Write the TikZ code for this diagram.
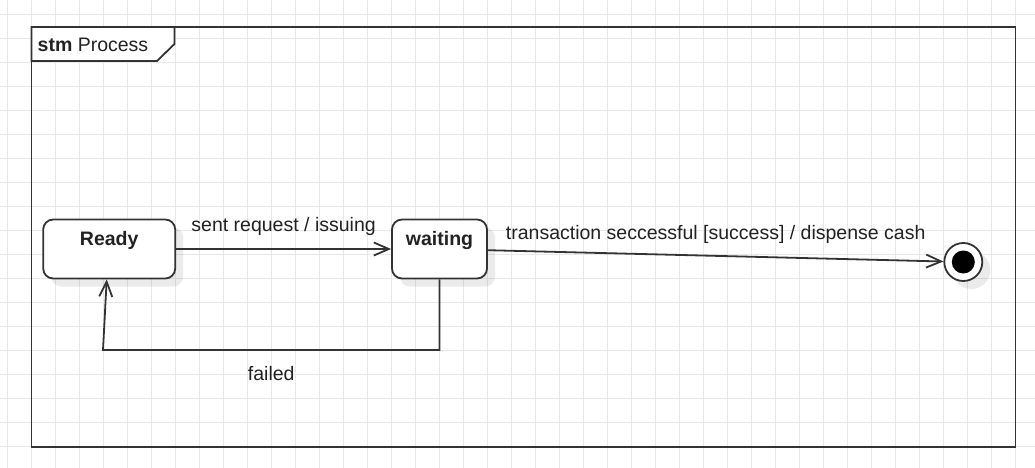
\documentclass[tikz,border=0pt]{standalone}
\usepackage{fontspec}
\setmainfont{Liberation Sans}
\usetikzlibrary{arrows.meta,shadows}
\definecolor{StmInk}{RGB}{51,51,51}
\definecolor{StmText}{RGB}{34,34,34}
\definecolor{StmGrid}{RGB}{232,232,232}
\tikzset{
  stm/state/.style={
    draw=StmInk,
    line width=1.8pt,
    rounded corners=10pt,
    fill=white,
    text=StmText,
    font=\fontsize{19.5}{23}\selectfont\bfseries,
    inner sep=0pt,
    text height=26pt,
    text depth=33pt,
    drop shadow={shadow xshift=8pt,shadow yshift=-8pt,fill=black,opacity=0.08}
  },
  stm/final/.style={
    circle,
    draw=StmInk,
    line width=1.8pt,
    fill=white,
    inner sep=0pt,
    minimum size=38pt,
    drop shadow={shadow xshift=8pt,shadow yshift=-8pt,fill=black,opacity=0.08}
  },
  stm/dot/.style={circle, fill=black, inner sep=0pt, minimum size=23pt},
  stm/frame/.style={draw=StmInk, line width=1.8pt},
  stm/trans/.style={-{Straight Barb[length=15pt,width=13pt]}, line width=1.8pt, draw=StmInk},
  stm/label/.style={font=\fontsize{19.5}{23}\selectfont, text=StmText, inner sep=0pt},
  stm/grid/.style={draw=StmGrid, line width=1.4pt}
}

\begin{document}
\begin{tikzpicture}[x=1pt,y=-1pt]
  \useasboundingbox (0,0) rectangle (1035,468);
  \fill[white] (0,0) rectangle (1035,468);
  % grid
  \foreach \gx in {0,...,42}{
    \draw[stm/grid] ({7.5+24*\gx},0) -- ({7.5+24*\gx},468);
  }
  \foreach \gy in {0,...,19}{
    \draw[stm/grid] (0,{14.7+24*\gy}) -- (1035,{14.7+24*\gy});
  }
  % frame and tab
  \draw[stm/frame] (31.5,27) rectangle (1015.5,446.7);
  \draw[stm/frame,fill=white] (31.5,27) -- (174.5,27) -- (174.5,44) -- (157,61) -- (31.5,61) -- cycle;
  \node[stm/label,anchor=base west] (tabtitle) at (37.5,51.5) {\textbf{stm} Process};
  % states
  \node[stm/state,minimum width=132pt] (ready) at (109.2,249) {Ready};
  \node[stm/state,minimum width=95pt] (waiting) at (439.5,249) {waiting};
  \node[stm/final] (final) at (963.3,262) {};
  \node[stm/dot] (finaldot) at (final) {};
  \coordinate (failcorner) at (103,350);
  % transitions
  \draw[stm/trans] (ready) -- node[stm/label,above=13pt] {sent request / issuing} (waiting);
  \draw[stm/trans] (waiting) -- node[stm/label,above=11pt] {transaction seccessful [success] / dispense cash} (final);
  \draw[stm/trans] (waiting.south) |- node[stm/label,pos=0.75,below=15pt] {failed} (failcorner) -- ([xshift=-2.5pt]ready.south);
\end{tikzpicture}
\end{document}
